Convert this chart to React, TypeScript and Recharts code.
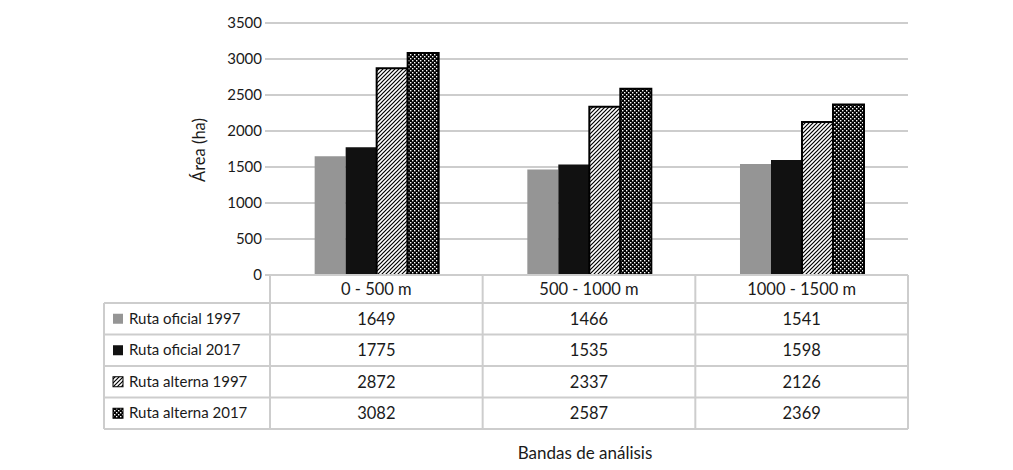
import { BarChart, Bar, XAxis, YAxis, CartesianGrid } from "recharts";

const categories = ["0 - 500 m", "500 - 1000 m", "1000 - 1500 m"];
const seriesNames = ["Ruta oficial 1997", "Ruta oficial 2017", "Ruta alterna 1997", "Ruta alterna 2017"];
const oficial1997 = [1649, 1466, 1541];
const oficial2017 = [1775, 1535, 1598];
const alterna1997 = [2872, 2337, 2126];
const alterna2017 = [3082, 2587, 2369];
const yTicks = [0, 500, 1000, 1500, 2000, 2500, 3000, 3500];

const seriesValues = [oficial1997, oficial2017, alterna1997, alterna2017];
const seriesKeys = ["o97", "o17", "a97", "a17"];
const seriesFills = ["#959595", "#111111", "url(#diag)", "url(#checker)"];
const seriesStrokes = ["none", "none", "#000", "#000"];

const data = categories.map((c, i) => ({
  name: c,
  o97: oficial1997[i],
  o17: oficial2017[i],
  a97: alterna1997[i],
  a17: alterna2017[i],
}));

const W = 1013;
const H = 470;
const plotLeft = 270;
const plotRight = 908;
const plotTop = 23;
const plotBottom = 275;
const tableLeft = 104;
const headerBottom = 303;
const rowH = 31.5;
const gridColor = "#cdcdcd";
const font = "Lato, 'Open Sans', sans-serif";
const textColor = "#1a1a1a";

export default function App() {
  const colW = (plotRight - plotLeft) / categories.length;
  const tableBottom = headerBottom + rowH * seriesNames.length;

  return (
    <div style={{ position: "absolute", left: 0, top: 0, width: W, height: H, background: "#fff", fontFamily: font }}>
      <BarChart
        width={W}
        height={H}
        data={data}
        margin={{ top: plotTop, right: W - plotRight, bottom: H - plotBottom, left: 0 }}
        barCategoryGap="21%"
        barGap={0}
      >
        <defs>
          <pattern id="diag" patternUnits="userSpaceOnUse" width="4" height="4">
            <rect width="4" height="4" fill="#fff" />
            <path d="M-1,1 l2,-2 M0,4 l4,-4 M3,5 l2,-2" stroke="#000" strokeWidth="1.2" />
          </pattern>
          <pattern id="checker" patternUnits="userSpaceOnUse" width="4" height="4">
            <rect width="4" height="4" fill="#000" />
            <rect x="0" y="0" width="1.4" height="1.4" fill="#fff" />
            <rect x="2" y="2" width="1.4" height="1.4" fill="#fff" />
          </pattern>
        </defs>
        <CartesianGrid horizontal vertical={false} stroke={gridColor} strokeWidth={2} />
        <XAxis dataKey="name" hide />
        <YAxis
          width={plotLeft}
          domain={[0, 3500]}
          ticks={yTicks}
          axisLine={false}
          tickSize={5}
          tickMargin={3}
          tickLine={{ stroke: gridColor, strokeWidth: 2 }}
          tick={{ fill: textColor, fontSize: 15, fontFamily: font }}
          interval={0}
        />
        {seriesKeys.map((k, i) => (
          <Bar
            key={k}
            dataKey={k}
            name={seriesNames[i]}
            fill={seriesFills[i]}
            stroke={seriesStrokes[i]}
            strokeWidth={i >= 2 ? 2 : 0}
            isAnimationActive={false}
          />
        ))}
      </BarChart>

      <svg
        width={W}
        height={H}
        style={{ position: "absolute", left: 0, top: 0, pointerEvents: "none" }}
        fontFamily={font}
      >
        {/* table lines */}
        <g stroke={gridColor} strokeWidth={2}>
          <line x1={plotLeft} y1={plotBottom} x2={plotRight} y2={plotBottom} />
          <line x1={plotLeft} y1={plotBottom} x2={plotLeft} y2={tableBottom} />
          <line x1={plotRight} y1={plotBottom} x2={plotRight} y2={tableBottom} />
          <line x1={tableLeft} y1={headerBottom} x2={tableLeft} y2={tableBottom} />
          {categories.slice(1).map((c, i) => (
            <line key={c} x1={plotLeft + colW * (i + 1)} y1={plotBottom} x2={plotLeft + colW * (i + 1)} y2={tableBottom} />
          ))}
          {seriesNames.map((s, r) => (
            <line key={s} x1={tableLeft} y1={headerBottom + rowH * r} x2={plotRight} y2={headerBottom + rowH * r} />
          ))}
          <line x1={tableLeft} y1={tableBottom} x2={plotRight} y2={tableBottom} />
        </g>
        {categories.map((c, i) => (
          <text
            key={c}
            x={plotLeft + colW * (i + 0.5)}
            y={(plotBottom + headerBottom) / 2 + 6}
            textAnchor="middle"
            fontSize={16.5}
            fill={textColor}
          >
            {c}
          </text>
        ))}
        {seriesNames.map((s, r) => {
          const cy = headerBottom + rowH * (r + 0.5);
          return (
            <g key={s}>
              <rect
                x={113}
                y={cy - 5}
                width={10}
                height={10}
                fill={seriesFills[r]}
                stroke={r >= 2 ? "#000" : "none"}
                strokeWidth={1}
              />
              <text x={129} y={cy + 5} fontSize={15} fill={textColor}>
                {s}
              </text>
              {seriesValues[r].map((v, i) => (
                <text key={i} x={plotLeft + colW * (i + 0.5)} y={cy + 6} textAnchor="middle" fontSize={16.5} fill={textColor}>
                  {v}
                </text>
              ))}
            </g>
          );
        })}
        <text x={585} y={459} textAnchor="middle" fontSize={17} fill={textColor}>
          Bandas de análisis
        </text>
        <text
          x={205}
          y={150}
          textAnchor="middle"
          fontSize={16.5}
          fill={textColor}
          transform="rotate(-90 205 150)"
        >
          Área (ha)
        </text>
      </svg>
    </div>
  );
}
